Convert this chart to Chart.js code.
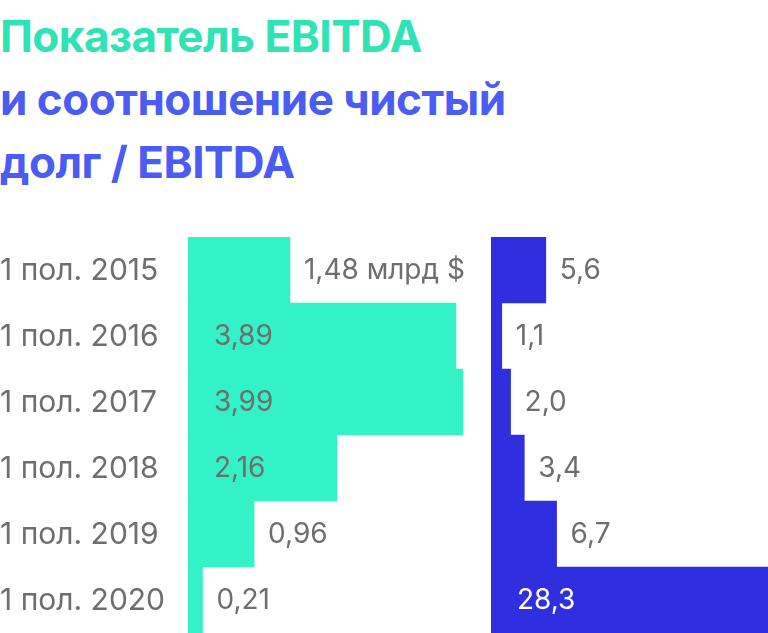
<!DOCTYPE html>
<html>
<head>
<meta charset="utf-8">
<script src="https://cdn.jsdelivr.net/npm/chart.js@4"></script>
<style>
  body { margin: 0; width: 768px; height: 633px; background: #fff; overflow: hidden; position: relative; font-family: Inter, "Noto Sans", sans-serif; }
  h1 { position: absolute; left: 0; top: 5px; margin: 0; font-size: 44px; line-height: 63px; font-weight: 700; letter-spacing: -0.5px; }
  .g { color: #2fe3b5; }
  .b { color: #4b5cf2; }
  #left { position: absolute; left: 0; top: 237px; }
  #right { position: absolute; left: 491px; top: 237px; }
</style>
</head>
<body>
<h1><span class="g">Показатель EBITDA</span><br><span class="b">и соотношение чистый<br>долг / EBITDA</span></h1>
<canvas id="left" width="480" height="396" style="width:480px;height:396px"></canvas>
<canvas id="right" width="277" height="396" style="width:277px;height:396px"></canvas>
<script>
const categories = ["1 пол. 2015", "1 пол. 2016", "1 пол. 2017", "1 пол. 2018", "1 пол. 2019", "1 пол. 2020"];
const ebitda = [1.48, 3.89, 3.99, 2.16, 0.96, 0.21];
const ebitdaLabels = ["1,48 млрд $", "3,89", "3,99", "2,16", "0,96", "0,21"];
const debtRatio = [5.6, 1.1, 2.0, 3.4, 6.7, 28.3];
const debtLabels = ["5,6", "1,1", "2,0", "3,4", "6,7", "28,3"];

// draws value labels inside wide bars, after narrow ones
function valueLabels(texts, drawCategories) {
    return {
        id: "valueLabels",
        afterDatasetsDraw(chart) {
            const ctx = chart.ctx;
            const meta = chart.getDatasetMeta(0);
            const left = chart.chartArea.left;
            ctx.save();
            ctx.textBaseline = "middle";
            meta.data.forEach((bar, i) => {
                const w = bar.x - left;
                const inside = w > 120;
                ctx.font = "28px Inter, 'Noto Sans', sans-serif";
                ctx.fillStyle = inside && chart.canvas.id === "right" ? "#ffffff" : "#6e6e6e";
                ctx.fillText(texts[i], inside ? left + 26 : bar.x + 14, bar.y + 1);
                if (drawCategories) {
                    ctx.font = "30px Inter, 'Noto Sans', sans-serif";
                    ctx.fillStyle = "#6e6e6e";
                    ctx.fillText(categories[i], 0, bar.y + 1);
                }
            });
            ctx.restore();
        }
    };
}

function makeChart(id, values, color, max, padLeft, texts, cats) {
    new Chart(document.getElementById(id), {
        type: "bar",
        data: {
            labels: categories,
            datasets: [{
                data: values,
                backgroundColor: color,
                borderWidth: 0,
                categoryPercentage: 1,
                barPercentage: 1
            }]
        },
        options: {
            indexAxis: "y",
            responsive: false,
            animation: false,
            layout: { padding: { left: padLeft, right: 0, top: 0, bottom: 0 } },
            plugins: { legend: { display: false }, tooltip: { enabled: false } },
            scales: {
                x: { display: false, min: 0, max: max },
                y: { display: false }
            }
        },
        plugins: [valueLabels(texts, cats)]
    });
}

makeChart("left", ebitda, "#33f2c5", 4.24, 188, ebitdaLabels, true);
makeChart("right", debtRatio, "#2f2fe0", 28.3, 0, debtLabels, false);
</script>
</body>
</html>
